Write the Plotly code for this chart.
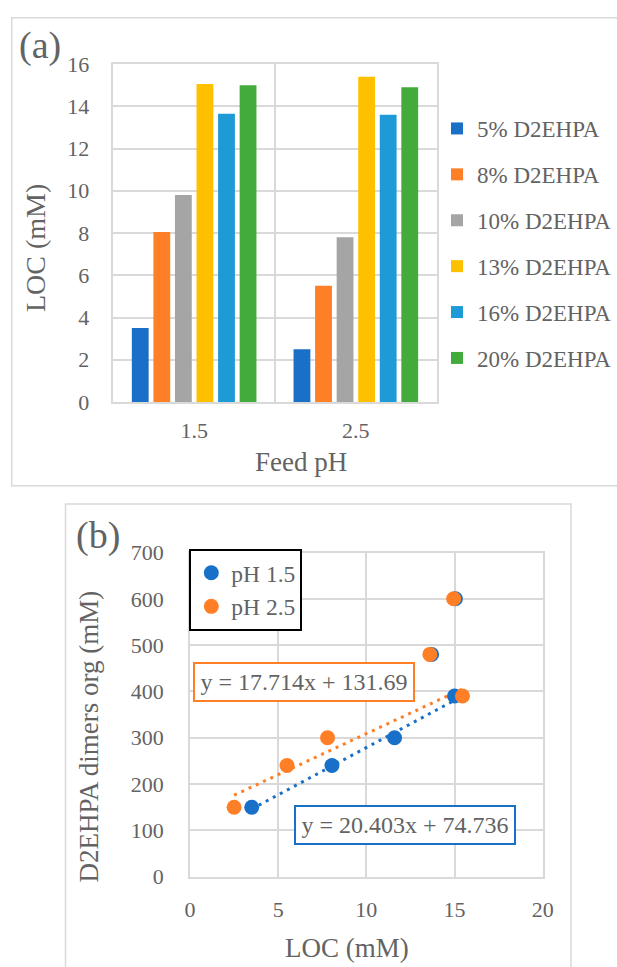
import plotly.graph_objects as go

W, H = 617, 967

def px(x):
    return x / W

def py(y):
    return 1 - y / H

FONT = "Liberation Serif"
TXT = "#636363"
GRID = "#d9d9d9"

# ---------- Panel (a) data ----------
feed_ph = ["1.5", "2.5"]
series_names = ["5% D2EHPA", "8% D2EHPA", "10% D2EHPA", "13% D2EHPA", "16% D2EHPA", "20% D2EHPA"]
loc_5 = [3.5, 2.5]
loc_8 = [8.05, 5.5]
loc_10 = [9.8, 7.8]
loc_13 = [15.05, 15.4]
loc_16 = [13.65, 13.6]
loc_20 = [15.0, 14.9]
bar_colors = ["#1A6FC6", "#FF7F27", "#A5A5A5", "#FFC000", "#1E9AD6", "#43AB3B"]

# ---------- Panel (b) data ----------
loc_ph15 = [3.5, 8.05, 11.6, 15.0, 13.7, 15.05]
dim_ph15 = [150, 240, 300, 390, 480, 600]
loc_ph25 = [2.5, 5.5, 7.8, 15.45, 13.6, 14.95]
dim_ph25 = [150, 240, 300, 390, 480, 600]
n_fit = 4  # trendline uses first four points
slope_ph15, icpt_ph15 = 20.403, 74.736
slope_ph25, icpt_ph25 = 17.714, 131.69
eq_ph15 = "y = 20.403x + 74.736"
eq_ph25 = "y = 17.714x + 131.69"
c_blue = "#1870C8"
c_orange = "#FF7F27"

fig = go.Figure()

all_loc = [loc_5, loc_8, loc_10, loc_13, loc_16, loc_20]
for i, (name, vals, col) in enumerate(zip(series_names, all_loc, bar_colors)):
    fig.add_trace(go.Bar(
        x=feed_ph, y=vals, name=name, marker=dict(color=col, line=dict(width=0)),
        xaxis="x", yaxis="y", legend="legend", legendgroup=f"g{i}",
    ))

def trend(xs, m, b):
    sub = xs[:n_fit]
    x0, x1 = min(sub), max(sub)
    return [x0, x1], [m * x0 + b, m * x1 + b]

tx, ty = trend(loc_ph15, slope_ph15, icpt_ph15)
fig.add_trace(go.Scatter(x=tx, y=ty, mode="lines", showlegend=False,
                         line=dict(color=c_blue, width=3, dash="3px,5px"),
                         xaxis="x2", yaxis="y2", hoverinfo="skip"))
tx, ty = trend(loc_ph25, slope_ph25, icpt_ph25)
fig.add_trace(go.Scatter(x=tx, y=ty, mode="lines", showlegend=False,
                         line=dict(color=c_orange, width=3, dash="3px,5px"),
                         xaxis="x2", yaxis="y2", hoverinfo="skip"))

fig.add_trace(go.Scatter(x=loc_ph15, y=dim_ph15, mode="markers", name="pH 1.5",
                         marker=dict(color=c_blue, size=15),
                         xaxis="x2", yaxis="y2", legend="legend2", legendgroup="p1"))
fig.add_trace(go.Scatter(x=loc_ph25, y=dim_ph25, mode="markers", name="pH 2.5",
                         marker=dict(color=c_orange, size=15),
                         xaxis="x2", yaxis="y2", legend="legend2", legendgroup="p2"))

tickfont = dict(family=FONT, size=22, color=TXT)

fig.update_layout(
    width=W, height=H,
    margin=dict(l=0, r=0, t=0, b=0, autoexpand=False),
    paper_bgcolor="white", plot_bgcolor="white",
    font=dict(family=FONT, color=TXT),
    barmode="group", bargap=0.2, bargroupgap=0.22,
    xaxis=dict(domain=[px(113.3), px(436.7)], anchor="y", type="category",
               tickson="boundaries", showgrid=True, gridcolor=GRID, gridwidth=1.5,
               showline=True, linecolor=GRID, linewidth=1.5, mirror=True,
               ticks="", tickfont=tickfont, ticklabelstandoff=8),
    yaxis=dict(domain=[py(402), py(64)], anchor="x", range=[0, 16], dtick=2,
               showgrid=True, gridcolor=GRID, gridwidth=1.5, zeroline=False,
               showline=True, linecolor=GRID, linewidth=1.5, mirror=True,
               ticks="", tickfont=tickfont, ticklabelstandoff=18),
    xaxis2=dict(domain=[px(190), px(542.7)], anchor="y2", range=[0, 20], dtick=5,
                showgrid=True, gridcolor=GRID, gridwidth=1.5, zeroline=False,
                showline=True, linecolor=GRID, linewidth=1.5, mirror=True,
                ticks="", tickfont=tickfont, ticklabelstandoff=12),
    yaxis2=dict(domain=[py(876.7), py(552.5)], anchor="x2", range=[0, 700], dtick=100,
                showgrid=True, gridcolor=GRID, gridwidth=1.5, zeroline=False,
                showline=True, linecolor=GRID, linewidth=1.5, mirror=True,
                ticks="", tickfont=tickfont, ticklabelstandoff=20),
    legend=dict(x=px(437), y=py(107), xanchor="left", yanchor="top",
                font=dict(family=FONT, size=23, color=TXT), bgcolor="rgba(0,0,0,0)",
                traceorder="grouped", tracegroupgap=13, borderwidth=0),
    legend2=dict(x=px(189.3), y=py(549), xanchor="left", yanchor="top",
                 font=dict(family=FONT, size=23.5, color=TXT), bgcolor="white",
                 bordercolor="black", borderwidth=2, traceorder="grouped",
                 tracegroupgap=0),
    showlegend=True,
)

shapes = [
    dict(type="rect", xref="paper", yref="paper", x0=px(11.7), x1=px(630),
         y0=py(485.7), y1=py(17.7), line=dict(color=GRID, width=1.5), layer="below"),
    dict(type="rect", xref="paper", yref="paper", x0=px(65.5), x1=px(571),
         y0=py(990), y1=py(504), line=dict(color=GRID, width=1.5), layer="below"),
]
fig.update_layout(shapes=shapes)

ann = [
    dict(text="(a)", x=px(40.5), y=py(46), font=dict(size=38, color=TXT, family=FONT)),
    dict(text="(b)", x=px(97.5), y=py(535), font=dict(size=38, color=TXT, family=FONT)),
    dict(text="LOC (mM)", x=px(35), y=py(248), textangle=-90, font=dict(size=28, color=TXT, family=FONT)),
    dict(text="Feed pH", x=px(301), y=py(462), font=dict(size=27, color=TXT, family=FONT)),
    dict(text="D2EHPA dimers org (mM)", x=px(88.5), y=py(736), textangle=-90,
         font=dict(size=27, color=TXT, family=FONT)),
    dict(text="LOC (mM)", x=px(346.8), y=py(948), font=dict(size=27, color=TXT, family=FONT)),
    dict(text=eq_ph25, x=px(304), y=py(681.7), font=dict(size=24, color=TXT, family=FONT),
         bordercolor=c_orange, borderwidth=2, bgcolor="white", borderpad=3,
         width=212, height=30),
    dict(text=eq_ph15, x=px(405.3), y=py(825.3), font=dict(size=24, color=TXT, family=FONT),
         bordercolor=c_blue, borderwidth=2, bgcolor="white", borderpad=3,
         width=212, height=30),
]
for a in ann:
    a.update(xref="paper", yref="paper", showarrow=False, xanchor="center", yanchor="middle")
fig.update_layout(annotations=ann)

fig.write_html("out.html")
